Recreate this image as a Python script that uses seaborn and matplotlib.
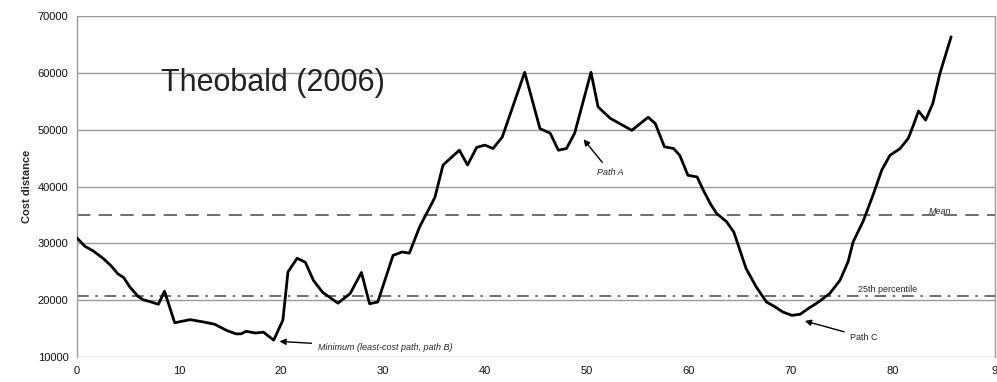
import pandas as pd
import matplotlib.pyplot as plt
import seaborn as sns

# 读数：沿路径的位置与累计成本
position = [0, 0.8, 1.6, 2.6, 3.4, 4.0, 4.6, 5.2, 6.0, 6.5, 7.3, 8.0, 8.6, 9.6, 11.1,
            12.4, 13.5, 14.7, 15.6, 16.1, 16.6, 17.5, 18.3, 19.3, 20.2, 20.7, 21.6,
            22.4, 23.2, 24.1, 25.6, 26.8, 27.9, 28.7, 29.5, 31.0, 31.9, 32.6, 33.6,
            35.1, 35.9, 37.5, 38.3, 39.2, 40.0, 40.8, 41.7, 43.9, 45.4, 46.4, 47.2,
            48.0, 48.8, 50.4, 51.1, 52.3, 54.4, 56.0, 56.7, 57.6, 58.5, 59.1, 59.9,
            60.8, 61.4, 62.1, 62.7, 63.7, 64.4, 65.0, 65.6, 66.6, 67.6, 68.4, 69.2,
            70.1, 70.9, 71.7, 72.7, 73.8, 74.8, 75.6, 76.1, 77.1, 78.1, 78.9, 79.7,
            80.7, 81.5, 82.0, 82.5, 83.2, 83.9, 84.6, 85.7]
cost = [31000, 29500, 28700, 27350, 26000, 24700, 24000, 22350, 20700, 20100, 19700,
        19300, 21600, 16050, 16600, 16200, 15800, 14700, 14100, 14100, 14550, 14250,
        14400, 13000, 16500, 25000, 27400, 26700, 23500, 21400, 19500, 21200, 24900,
        19400, 19700, 27900, 28500, 28300, 32900, 38100, 43800, 46400, 43800, 46900,
        47300, 46700, 48700, 60100, 50200, 49400, 46400, 46700, 49400, 60100, 54000,
        52000, 49900, 52200, 51100, 47000, 46700, 45500, 42000, 41700, 39400, 37000,
        35300, 33800, 32000, 28800, 25600, 22350, 19700, 18900, 17950, 17350, 17550,
        18550, 19700, 21200, 23500, 26800, 30300, 34000, 38800, 42900, 45500, 46700,
        48500, 50800, 53300, 51700, 54600, 59900, 66350]

mean_cost = 35000
p25_cost = 20700

df = pd.DataFrame({'pos': position, 'cost': cost})

sns.set_style('white')
plt.rcParams['font.family'] = ['Liberation Sans', 'DejaVu Sans']

fig = plt.figure(figsize=(9.97, 3.82), dpi=100)
ax = fig.add_axes([0.077, 0.065, 0.921, 0.893])

# 网格线
for yv in range(10000, 70001, 10000):
    ax.axhline(yv, color='#9a9a9a', lw=1, zorder=0)

ax.axhline(mean_cost, color='#555555', lw=1.2, ls=(0, (8, 5)), zorder=1)
ax.axhline(p25_cost, color='#555555', lw=1.2, ls=(0, (7, 4, 1.5, 4)), zorder=1)

sns.lineplot(data=df, x='pos', y='cost', ax=ax, color='black', lw=2, zorder=3)

ax.set_xlim(0, 90)
ax.set_ylim(10000, 70000)
ax.set_xticks(range(0, 91, 10))
ax.set_xticklabels(['0', '10', '20', '30', '40', '50', '60', '70', '80', '9'])
ax.set_yticks(range(10000, 70001, 10000))
ax.set_yticklabels([f'{v}' for v in range(10000, 70001, 10000)])
ax.tick_params(axis='both', labelsize=8, colors='#111111', length=0, pad=6)
ax.set_xlabel('')
ax.set_ylabel('Cost distance', fontsize=8, fontweight='bold', labelpad=4)

for s in ['top', 'bottom']:
    ax.spines[s].set_visible(False)
for s in ['left', 'right']:
    ax.spines[s].set_color('#9a9a9a')
    ax.spines[s].set_linewidth(1)

ax.text(8.3, 58300, 'Theobald (2006)', fontsize=22, color='#222222', va='center')

akw = dict(arrowstyle='-|>', color='black', lw=1, mutation_scale=9)
ax.annotate('Minimum (least-cost path, path B)', xy=(19.6, 12800), xytext=(23.6, 11700),
            fontsize=6.5, style='italic', va='center', arrowprops=akw)
ax.annotate('Path A', xy=(49.5, 48700), xytext=(52.3, 42500),
            fontsize=6.5, style='italic', va='center', ha='center', arrowprops=akw)
ax.annotate('Path C', xy=(71.1, 16500), xytext=(75.8, 13500),
            fontsize=6.5, va='center', arrowprops=akw)
ax.text(84.6, 35600, 'Mean', fontsize=6.5, style='italic', va='center', ha='center')
ax.text(79.5, 21900, '25th percentile', fontsize=6.5, va='center', ha='center')

fig.savefig('out.png', dpi=100)
